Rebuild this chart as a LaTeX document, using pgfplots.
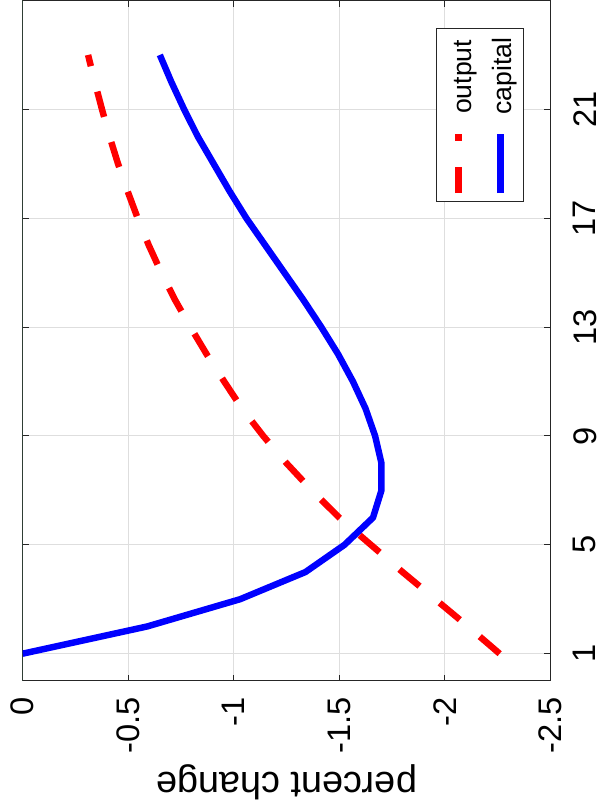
\documentclass[border=0pt]{standalone}
\usepackage{pgfplots}
\pgfplotsset{compat=1.18}
\usepackage{pgfplotstable}
\usepackage{fontspec}
\setmainfont{Liberation Sans}
\definecolor{axgray}{rgb}{0.15,0.15,0.15}
\definecolor{gridgray}{rgb}{0.87,0.87,0.87}
\definecolor{zerogreen}{rgb}{0.25,0.42,0.32}

% period, percent change
\pgfplotstableread{
t v
1 -2.26
2 -2.11
3 -1.955
4 -1.80
5 -1.65
6 -1.50
7 -1.37
8 -1.25
9 -1.14
10 -1.04
11 -0.955
12 -0.872
13 -0.795
14 -0.722
15 -0.657
16 -0.598
17 -0.545
18 -0.497
19 -0.452
20 -0.412
21 -0.376
22 -0.342
23 -0.31
}\outputdata

\pgfplotstableread{
t v
1 0
2 -0.59
3 -1.03
4 -1.34
5 -1.525
6 -1.66
7 -1.70
8 -1.70
9 -1.67
10 -1.625
11 -1.565
12 -1.495
13 -1.415
14 -1.33
15 -1.24
16 -1.15
17 -1.06
18 -0.98
19 -0.905
20 -0.83
21 -0.765
22 -0.705
23 -0.65
}\capitaldata

\begin{document}
\begin{tikzpicture}
\begin{axis}[
    scale only axis,
    width=261.9pt, height=337.7pt,
    x dir=reverse,
    xmin=-2.5, xmax=0,
    ymin=0, ymax=25,
    xtick={-2.5,-2,-1.5,-1,-0.5,0},
    xticklabels={-2.5,-2,-1.5,-1,-0.5,0},
    ytick={1,5,9,13,17,21},
    yticklabels={1,5,9,13,17,21},
    yticklabel pos=right,
    tick align=inside,
    major tick length=3pt,
    tick style={axgray, line width=0.5pt},
    axis line style={axgray, line width=0.5pt},
    grid=major,
    major grid style={gridgray, line width=0.5pt},
    every tick label/.append style={font=\fontsize{16.2}{19}\selectfont, text=black},
    xticklabel style={rotate=90, anchor=east, inner xsep=0pt, inner ysep=5.5pt},
    xticklabel shift=7.85pt,
    yticklabel style={rotate=90, anchor=north, inner xsep=0pt, inner ysep=4.4pt},
    yticklabel shift=6.85pt,
    xlabel={percent change},
    xlabel style={font=\fontsize{18.8}{22}\selectfont, rotate=180, anchor=south,
        inner xsep=0pt, inner ysep=3.5pt},
    xlabel shift=1.9pt,
]
\addplot[zerogreen, line width=0.6pt] coordinates {(0,0) (0,25)};
\addplot[red, line width=3.2pt, dash pattern=on 13pt off 13pt] table[x=v, y=t] {\outputdata};
\addplot[blue, line width=3.2pt, line join=round] table[x=v, y=t] {\capitaldata};
% legend, turned like the rest of the figure
\draw[axgray, line width=0.5pt, fill=white] (axis cs:-1.959,17.62) rectangle (axis cs:-2.374,23.98);
\draw[red, line width=3.2pt, dash pattern=on 13pt off 13pt] (axis cs:-2.065,17.92) -- (axis cs:-2.065,20.10);
\draw[blue, line width=3.2pt] (axis cs:-2.263,17.92) -- (axis cs:-2.263,20.10);
\node[rotate=90, anchor=base west, inner sep=0pt, font=\fontsize{13.2}{15}\selectfont] at (axis cs:-2.125,20.82) {output};
\node[rotate=90, anchor=base west, inner sep=0pt, font=\fontsize{13.2}{15}\selectfont] at (axis cs:-2.315,20.80) {capital};
\end{axis}
\end{tikzpicture}
\end{document}
